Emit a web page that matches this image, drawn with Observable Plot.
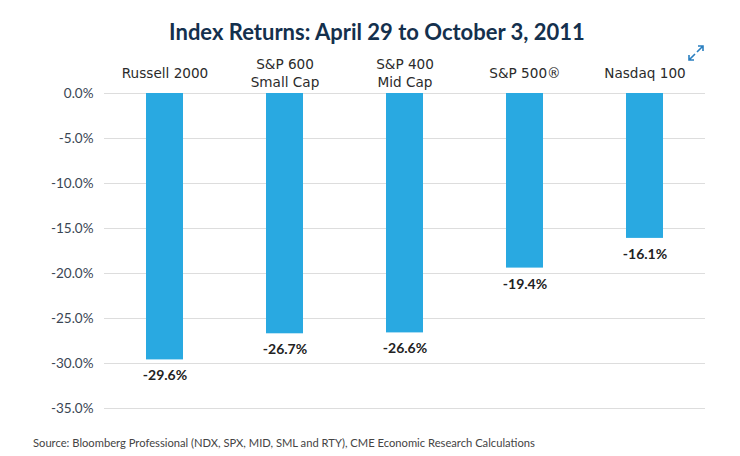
<!DOCTYPE html>
<html><head><meta charset="utf-8">
<script src="https://cdn.jsdelivr.net/npm/d3@7"></script>
<script src="https://cdn.jsdelivr.net/npm/@observablehq/plot@0.6"></script>
<style>
body{margin:0;background:#fff;font-family:Lato,"Open Sans",sans-serif;width:740px;position:relative}
#title{height:50px;line-height:64px;text-align:center;font-size:22px;font-weight:700;color:#14304d;padding-left:14px;box-sizing:border-box}
#cap{font-size:11.2px;color:#444;padding-left:33px;line-height:26px}
#icon{position:absolute;left:686px;top:43px}
</style></head>
<body>
<div id="title">Index Returns: April 29 to October 3, 2011</div>
<svg id="icon" width="20" height="20" viewBox="0 0 20 20"><g stroke="#2a7fc0" stroke-width="1.6" fill="none"><path d="M11 9 L17 3 M12 3 H17 V8"/><path d="M9 11 L3 17 M3 12 V17 H8"/></g></svg>
<div id="chart"></div>
<div id="cap">Source: Bloomberg Professional (NDX, SPX, MID, SML and RTY), CME Economic Research Calculations</div>
<script>
const categories = ["Russell 2000", "S&P 600\nSmall Cap", "S&P 400\nMid Cap", "S&P 500®", "Nasdaq 100"];
const values = [-29.6, -26.7, -26.6, -19.4, -16.1];
const yTicks = [0, -5, -10, -15, -20, -25, -30, -35];
const data = categories.map((c, i) => ({name: c, value: values[i]}));
const fmt = v => v.toFixed(1) + "%";
const chart = Plot.plot({
  width: 740, height: 380,
  marginTop: 43, marginBottom: 22, marginLeft: 104, marginRight: 35,
  style: {fontFamily: "Lato, 'Open Sans', sans-serif", fontSize: "13px", color: "#333"},
  x: {domain: categories, paddingInner: 0.69, paddingOuter: 0.345, axis: null},
  y: {domain: [-35, 0], ticks: yTicks, tickFormat: fmt, label: null},
  marks: [
    Plot.gridY(yTicks, {stroke: "#ddd", strokeOpacity: 1}),
    Plot.axisY(yTicks, {tickSize: 0, tickPadding: 11, tickFormat: fmt, label: null, fill: "#3a4553", fontSize: 13.5}),
    Plot.barY(data, {x: "name", y: "value", fill: "#29a9e1"}),
    Plot.text(data, {x: "name", frameAnchor: "top", dy: -21, text: "name", lineAnchor: "middle", fill: "#2b2b2b", fontSize: 13.6, fontFamily: "'DejaVu Sans', sans-serif", lineHeight: 1.3}),
    Plot.text(data, {x: "name", y: "value", text: d => fmt(d.value), dy: 16, fill: "#222", fontWeight: 700, fontSize: 14})
  ]
});
document.getElementById("chart").appendChild(chart);
</script>
</body></html>
